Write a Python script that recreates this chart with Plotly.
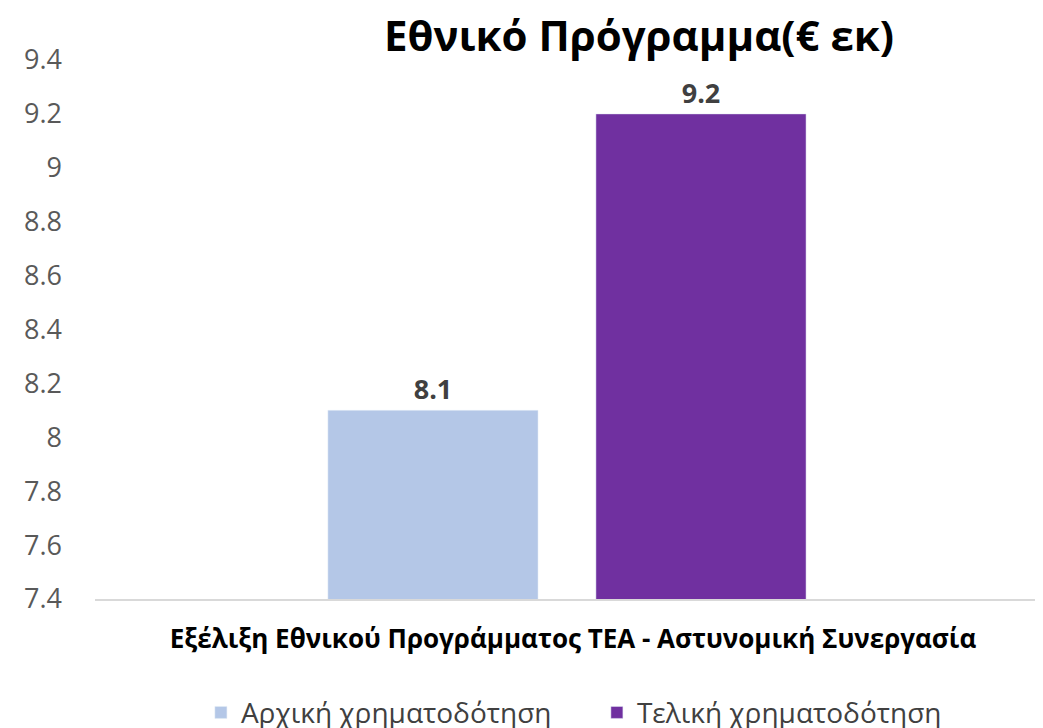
import plotly.graph_objects as go

categories = ["Εξέλιξη Εθνικού Προγράμματος ΤΕΑ - Αστυνομική Συνεργασία"]
series_names = ["Αρχική χρηματοδότηση", "Τελική χρηματοδότηση"]
initial_values = [8.1]
final_values = [9.2]
colors = ["#B4C7E7", "#7030A0"]
tick_vals = [7.4, 7.6, 7.8, 8.0, 8.2, 8.4, 8.6, 8.8, 9.0, 9.2, 9.4]
tick_text = ["7.4", "7.6", "7.8", "8", "8.2", "8.4", "8.6", "8.8", "9", "9.2", "9.4"]

FONT = "Open Sans"

fig = go.Figure()
for name, vals, col in zip(series_names, [initial_values, final_values], colors):
    fig.add_trace(go.Bar(
        x=[0], y=vals, name=name, marker_color=col,
        text=[f"{v:g}" for v in vals], textposition="outside",
        textfont=dict(family=FONT, size=27, color="#404040", weight="bold"),
        cliponaxis=False,
    ))

fig.update_layout(
    width=1043, height=728,
    paper_bgcolor="white", plot_bgcolor="white",
    margin=dict(l=87, r=0, t=52, b=137, autoexpand=False),
    title=dict(text="<b>Εθνικό Πρόγραμμα(€ εκ)</b>", x=0.605, xanchor="center",
               y=0.961, yanchor="middle",
               font=dict(family=FONT, size=42, color="black")),
    barmode="group", bargap=0.4393, bargroupgap=0.216,
    showlegend=True,
    legend=dict(orientation="h", x=0.525, xanchor="center", y=-0.211, yanchor="middle",
                font=dict(family=FONT, size=28, color="#404040"),
                itemwidth=30, traceorder="normal", entrywidth=351),
    font=dict(family=FONT),
)
fig.update_yaxes(range=[7.4, 9.4], tickvals=tick_vals, ticktext=tick_text,
                 showgrid=False, zeroline=False, showline=False, automargin=False,
                 tickfont=dict(family=FONT, size=27, color="#595959"), ticklabelstandoff=32)
fig.update_xaxes(range=[-0.4937, 0.5063], showline=True, linecolor="#D9D9D9", linewidth=1.5,
                 showticklabels=False, showgrid=False, zeroline=False, automargin=False,
                 title=dict(text="<b>" + categories[0] + "</b>", standoff=30,
                            font=dict(family=FONT, size=26, color="black")))

fig.write_html("out.html")
